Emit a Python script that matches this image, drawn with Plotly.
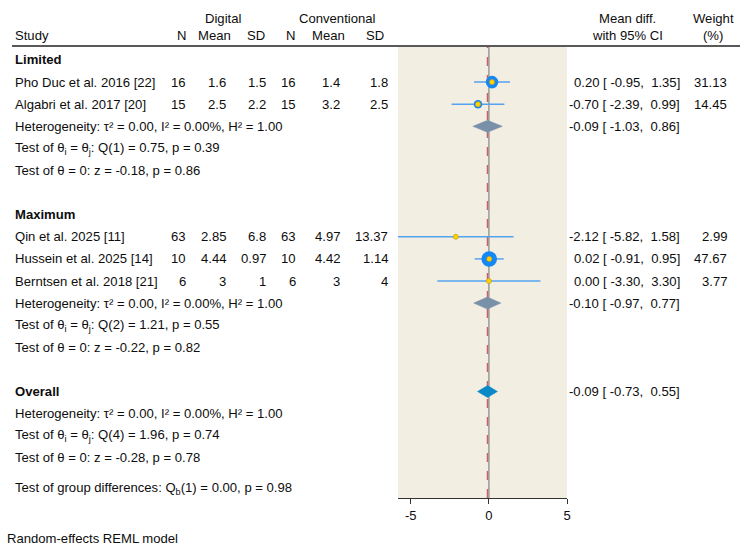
import plotly.graph_objects as go

# ---------------- data ----------------
studies = ["Pho Duc et al. 2016 [22]", "Algabri et al. 2017 [20]",
           "Qin et al. 2025 [11]", "Hussein et al. 2025 [14]", "Berntsen et al. 2018 [21]"]
groups = ["Limited", "Limited", "Maximum", "Maximum", "Maximum"]
dig_n = ["16", "15", "63", "10", "6"]
dig_mean = ["1.6", "2.5", "2.85", "4.44", "3"]
dig_sd = ["1.5", "2.2", "6.8", "0.97", "1"]
con_n = ["16", "15", "63", "10", "6"]
con_mean = ["1.4", "3.2", "4.97", "4.42", "3"]
con_sd = ["1.8", "2.5", "13.37", "1.14", "4"]
md = [0.20, -0.70, -2.12, 0.02, 0.00]
ci_lo = [-0.95, -2.39, -5.82, -0.91, -3.30]
ci_hi = [1.35, 0.99, 1.58, 0.95, 3.30]
weight = [31.13, 14.45, 2.99, 47.67, 3.77]

sub_names = ["Limited", "Maximum"]
sub_md = [-0.09, -0.10]
sub_lo = [-1.03, -0.97]
sub_hi = [0.86, 0.77]
sub_het = ["Heterogeneity: τ² = 0.00, I² = 0.00%, H² = 1.00",
           "Heterogeneity: τ² = 0.00, I² = 0.00%, H² = 1.00"]
sub_q = ["Test of θ<sub>i</sub> = θ<sub>j</sub>: Q(1) = 0.75, p = 0.39",
         "Test of θ<sub>i</sub> = θ<sub>j</sub>: Q(2) = 1.21, p = 0.55"]
sub_z = ["Test of θ = 0: z = -0.18, p = 0.86",
         "Test of θ = 0: z = -0.22, p = 0.82"]

ov_md, ov_lo, ov_hi = -0.09, -0.73, 0.55
ov_het = "Heterogeneity: τ² = 0.00, I² = 0.00%, H² = 1.00"
ov_q = "Test of θ<sub>i</sub> = θ<sub>j</sub>: Q(4) = 1.96, p = 0.74"
ov_z = "Test of θ = 0: z = -0.28, p = 0.78"
grp_test = "Test of group differences: Q<sub>b</sub>(1) = 0.00, p = 0.98"
model_note = "Random-effects REML model"

xticks = [-5, 0, 5]

# ---------------- layout geometry (pixels) ----------------
W, H = 750, 549
PL, PR, PT, PB = 398, 567, 47, 498   # plot panel
ROW0, DY = 60, 22.1


def rowy(i):
    return ROW0 + DY * i


def xp(px):
    return (px - PL) / (PR - PL)


def yp(py):
    return (PB - py) / (PB - PT)


FONT = "Liberation Sans, Arial, Helvetica, sans-serif"
FS = 13.1
TXT = "#0d0d0d"

annots = []


def txt(s, x, y, anchor="left", bold=False):
    annots.append(dict(text=("<b>%s</b>" % s) if bold else s, x=xp(x), y=yp(y),
                       xref="paper", yref="paper", xanchor=anchor, yanchor="middle",
                       showarrow=False, font=dict(family=FONT, size=FS, color=TXT)))


# headers
txt("Digital", 223, 18, "center")
txt("Conventional", 337, 18, "center")
txt("Study", 13, 36)
for s, x in zip(["N", "Mean", "SD", "N", "Mean", "SD"], [188, 233, 267, 297, 347, 386]):
    txt(s, x, 36, "right")
txt("Mean diff.", 627, 18, "center")
txt("with 95% CI", 627, 36, "center")
txt("Weight", 713, 18, "center")
txt("(%)", 713, 36, "center")

# row layout
study_rows = [1, 2, 8, 9, 10]
sub_rows = [0, 7]
cols_x = [188, 228, 268, 298, 342, 390]

for g, r in zip(sub_names, sub_rows):
    txt(g, 13, rowy(r), bold=True)

for i, r in enumerate(study_rows):
    y = rowy(r)
    txt(studies[i], 13, y)
    for v, x in zip([dig_n[i], dig_mean[i], dig_sd[i], con_n[i], con_mean[i], con_sd[i]], cols_x):
        txt(v, x, y, "right")
    txt("%.2f [ %.2f,  %.2f]" % (md[i], ci_lo[i], ci_hi[i]), 682, y, "right")
    txt("%.2f" % weight[i], 729, y, "right")

for k, r in enumerate([3, 11]):
    txt(sub_het[k], 13, rowy(r))
    txt(sub_q[k], 13, rowy(r + 1))
    txt(sub_z[k], 13, rowy(r + 2))
    txt("%.2f [ %.2f,  %.2f]" % (sub_md[k], sub_lo[k], sub_hi[k]), 682, rowy(r), "right")

txt("Overall", 13, rowy(15), bold=True)
txt("%.2f [ %.2f,  %.2f]" % (ov_md, ov_lo, ov_hi), 682, rowy(15), "right")
txt(ov_het, 13, rowy(16))
txt(ov_q, 13, rowy(17))
txt(ov_z, 13, rowy(18))
txt(grp_test, 13, 488)
txt(model_note, 5, 538)

fig = go.Figure()

# reference lines (behind the marks)
shapes = [
    dict(type="line", xref="paper", yref="paper", x0=xp(12), x1=xp(740), y0=yp(46), y1=yp(46),
         line=dict(color="#222222", width=1.3)),
    dict(type="line", xref="x", yref="paper", x0=0, x1=0, y0=0, y1=1, layer="below",
         line=dict(color="#9a9a9a", width=1.5)),
    dict(type="line", xref="x", yref="paper", x0=ov_md, x1=ov_md, y0=0, y1=1, layer="below",
         line=dict(color="#c8606c", width=1.5, dash="dash")),
]

# study CIs and markers
ys = [rowy(r) for r in study_rows]
fig.add_trace(go.Scatter(
    x=md, y=ys, mode="markers",
    marker=dict(size=[max(5, 2.25 * w ** 0.5) for w in weight], color="#1488f5",
                opacity=1, line=dict(width=0)),
    error_x=dict(type="data", symmetric=False,
                 array=[h - m for h, m in zip(ci_hi, md)],
                 arrayminus=[m - l for m, l in zip(md, ci_lo)],
                 color="#55a3f0", thickness=1.5, width=0),
    hoverinfo="skip", showlegend=False))
fig.add_trace(go.Scatter(
    x=md, y=ys, mode="markers",
    marker=dict(size=5, color="#ffd400", opacity=1, line=dict(color="#e0a000", width=0.6)),
    hoverinfo="skip", showlegend=False))

# diamonds
HD = 6


def diamond(m, lo, hi, y, color):
    fig.add_trace(go.Scatter(
        x=[lo, m, hi, m, lo], y=[y, y - HD, y, y + HD, y], mode="lines",
        fill="toself", fillcolor=color, line=dict(color=color, width=0.5),
        hoverinfo="skip", showlegend=False))


for k, r in enumerate([3, 11]):
    diamond(sub_md[k], sub_lo[k], sub_hi[k], rowy(r), "#7890a8")
diamond(ov_md, ov_lo, ov_hi, rowy(15), "#0a89c6")

fig.update_layout(
    width=W, height=H,
    margin=dict(l=PL, r=W - PR, t=PT, b=H - PB, pad=0),
    paper_bgcolor="white", plot_bgcolor="#f2efe2",
    font=dict(family=FONT, size=FS, color=TXT),
    xaxis=dict(range=[-5.82, 5], tickvals=xticks, ticktext=[str(v) for v in xticks],
               showgrid=False, zeroline=False, showline=True, linecolor="#333333", linewidth=1,
               ticks="outside", ticklen=5, tickcolor="#333333", tickfont=dict(size=13)),
    yaxis=dict(range=[PB, PT], showgrid=False, zeroline=False, showticklabels=False,
               showline=False, ticks=""),
    annotations=annots, shapes=shapes,
)

fig.write_html("out.html")
